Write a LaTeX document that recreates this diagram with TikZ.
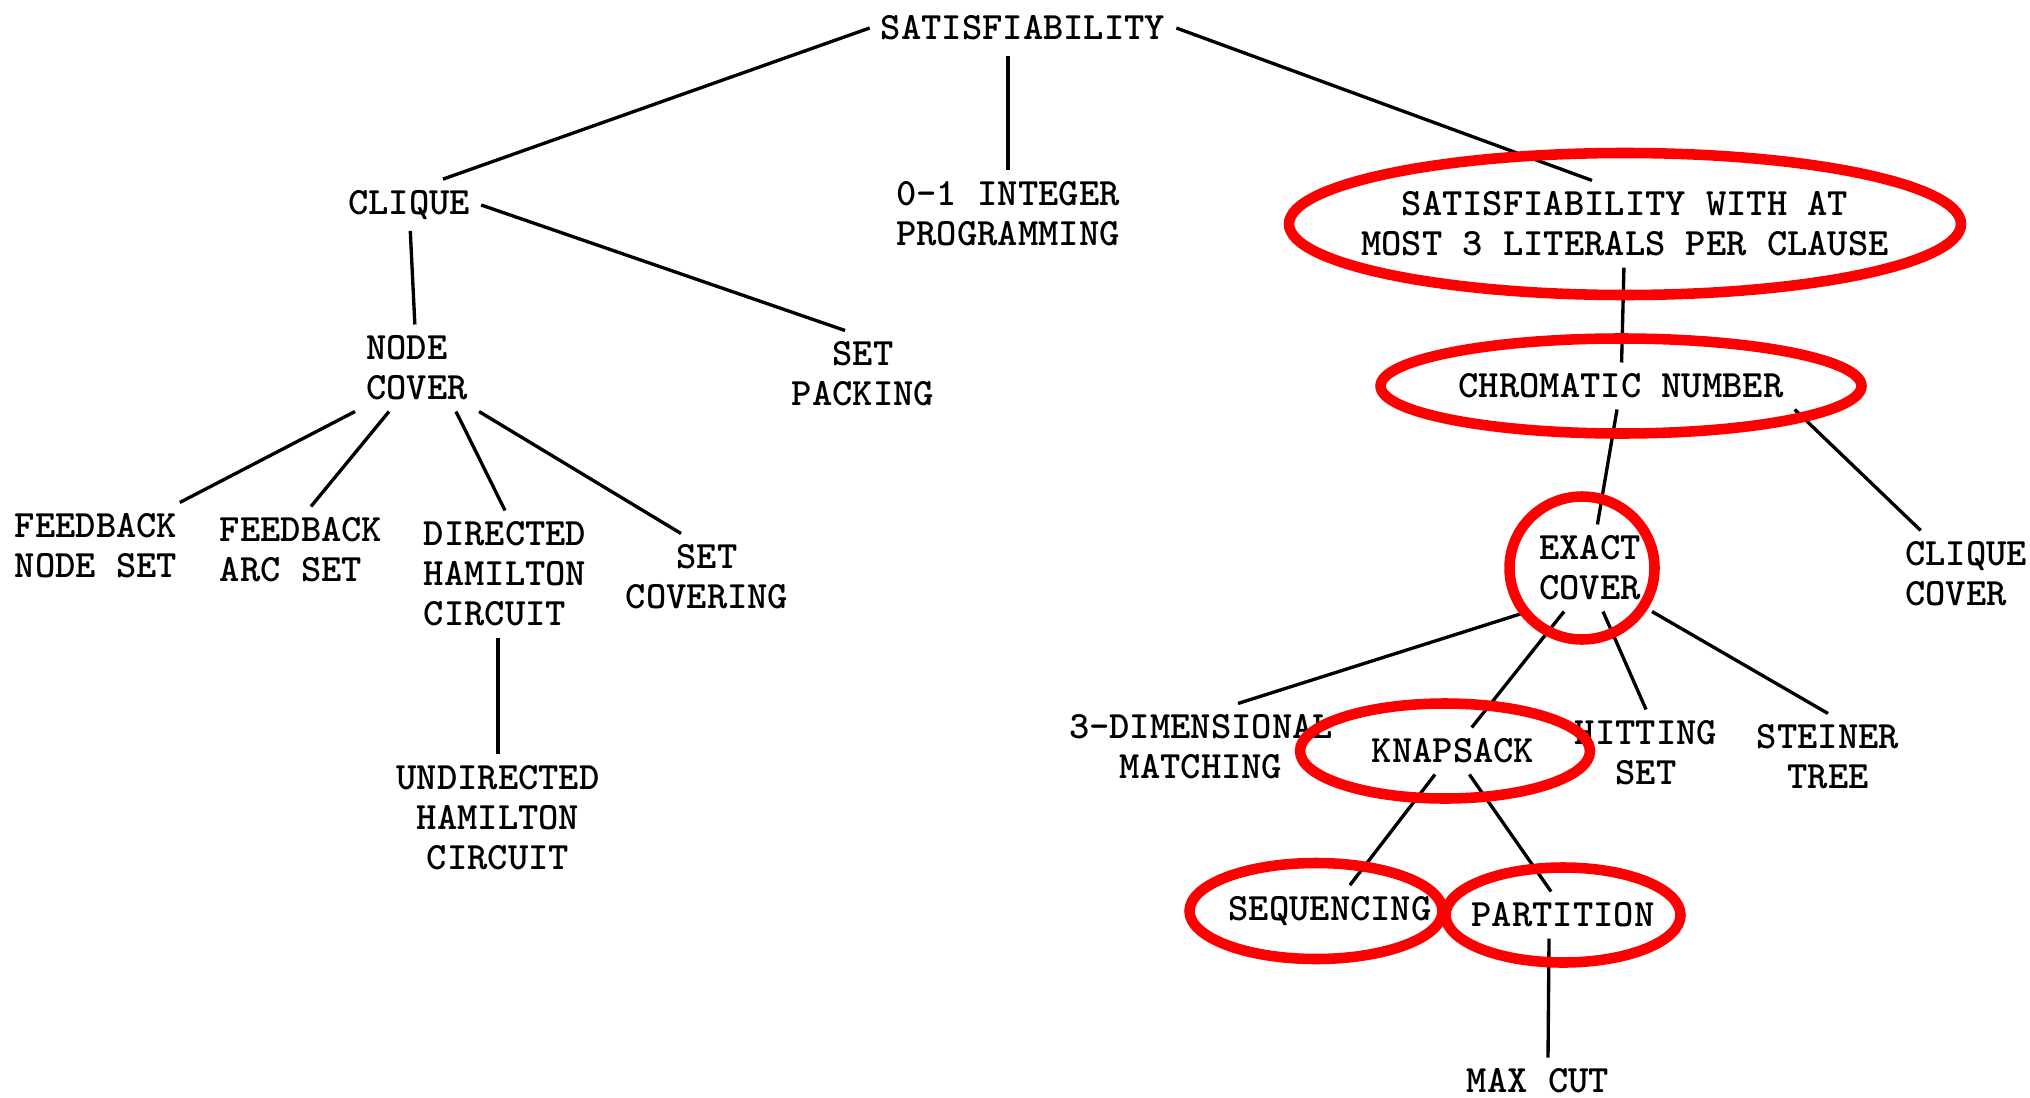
\documentclass[tikz,border=0pt]{standalone}
\usepackage{tikz}

\begin{document}
\begin{tikzpicture}[x=1cm,y=1cm,
  prob/.style={font=\ttfamily\bfseries\fontsize{11}{11.4}\selectfont,inner sep=3pt,align=center},
  link/.style={line width=0.95pt},
  ring/.style={draw=red,line width=3pt}]
\useasboundingbox (0,0) rectangle (20.30,-10.97);
% problems
\node[prob] (sat) at (10.23,-0.28) {SATISFIABILITY};
\node[prob] (clique) at (4.09,-2.05) {CLIQUE};
\node[prob] (int01) at (10.08,-2.14) {0-1 INTEGER\\PROGRAMMING};
\node[prob] (sat3) at (16.25,-2.24) {SATISFIABILITY WITH AT\\MOST 3 LITERALS PER CLAUSE};
\node[prob,align=left] (nc) at (4.17,-3.68) {NODE\\COVER};
\node[prob] (sp) at (8.63,-3.74) {SET\\PACKING};
\node[prob] (chrom) at (16.21,-3.86) {CHROMATIC NUMBER};
\node[prob,align=left] (fns) at (0.96,-5.46) {FEEDBACK\\NODE SET};
\node[prob,align=left] (fas) at (3.01,-5.50) {FEEDBACK\\ARC SET};
\node[prob,align=left] (dhc) at (5.05,-5.74) {DIRECTED\\HAMILTON\\CIRCUIT};
\node[prob] (sc) at (7.07,-5.77) {SET\\COVERING};
\node[prob] (exact) at (15.90,-5.68) {EXACT\\COVER};
\node[prob,align=left] (cc) at (19.66,-5.74) {CLIQUE\\COVER};
\node[prob] (tdm) at (12.01,-7.47) {3-DIMENSIONAL\\MATCHING};
\node[prob] (knap) at (14.53,-7.51) {KNAPSACK};
\node[prob] (hit) at (16.46,-7.53) {HITTING\\SET};
\node[prob] (steiner) at (18.28,-7.57) {STEINER\\TREE};
\node[prob] (uhc) at (4.98,-8.18) {UNDIRECTED\\HAMILTON\\CIRCUIT};
\node[prob] (seq) at (13.30,-9.11) {SEQUENCING};
\node[prob] (part) at (15.63,-9.15) {PARTITION};
\node[prob] (maxcut) at (15.38,-10.81) {MAX CUT};
% reductions
\draw[link] (sat.west) -- ([xshift=3.4mm]clique.north);
\draw[link] ([yshift=-0.5mm]sat.south -| int01.north) -- (int01.north);
\draw[link] (sat.east) -- ([xshift=-3.3mm]sat3.north);
\draw[link] (clique) -- (nc);
\draw[link] (clique.east) -- ([xshift=-1.8mm]sp.north);
\draw[link] (nc.south west) -- (fns);
\draw[link] ([xshift=-2.8mm]nc.south) -- ([xshift=1mm]fas.north);
\draw[link] ([xshift=-2.3mm]nc.south east) -- (dhc.north);
\draw[link] (nc.south east) -- ([xshift=-2.6mm]sc.north);
\draw[link] (dhc.south -| uhc.north) -- (uhc.north);
\draw[link] (sat3) -- (chrom);
\draw[link] (chrom) -- (exact);
\draw[link] (chrom.south east) -- (cc);
\draw[link] (exact.south west) -- ([xshift=3.7mm]tdm.north);
\draw[link] ([xshift=-2.6mm]exact.south) -- (knap);
\draw[link] ([xshift=1.3mm]exact.south) -- (hit.north);
\draw[link] (exact.south east) -- (steiner.north);
\draw[link] (knap) -- (seq);
\draw[link] (knap) -- ([xshift=-1.2mm]part.north);
\draw[link] ([xshift=-1.4mm]part.south) -- ([xshift=1mm]maxcut.north);
% red marks
\draw[ring] (sat3) ellipse [x radius=3.36,y radius=0.71];
\draw[ring] (chrom) ellipse [x radius=2.405,y radius=0.475];
\draw[ring] ([xshift=-0.8mm]exact.center) ellipse [x radius=0.725,y radius=0.715];
\draw[ring] ([xshift=-0.8mm]knap.center) ellipse [x radius=1.45,y radius=0.475];
\draw[ring] ([xshift=-1.4mm]seq.center) ellipse [x radius=1.265,y radius=0.48];
\draw[ring] (part.center) ellipse [x radius=1.175,y radius=0.475];
\end{tikzpicture}
\end{document}
